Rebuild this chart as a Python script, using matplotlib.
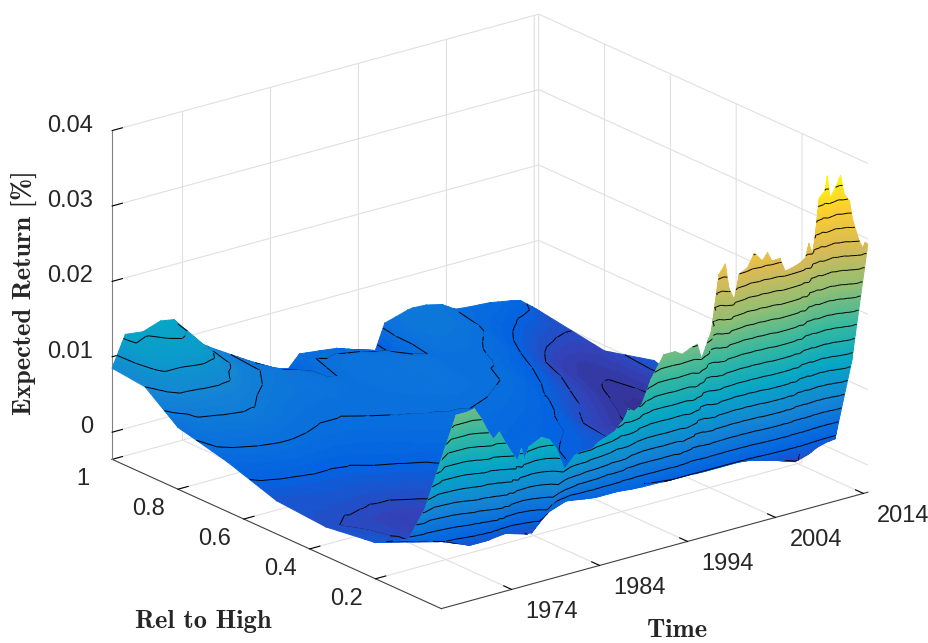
import numpy as np
import matplotlib
matplotlib.use("Agg")
import matplotlib.pyplot as plt
from matplotlib.colors import LinearSegmentedColormap, Normalize
from mpl_toolkits.mplot3d import proj3d
from mpl_toolkits.mplot3d.art3d import Poly3DCollection

# -------------------------------------------------
# data
# -------------------------------------------------

# steep front part of the surface (rel to high 0 .. 0.1), read finely
cliff_years = [1966.0, 1967.7, 1968.85, 1969.76, 1970.56, 1971.36, 1971.93,
               1972.61, 1973.07, 1973.98, 1974.78, 1975.12, 1975.46, 1976.0,
               1977.4, 1978.3, 1979.1, 1980.0, 1981.2, 1982.0, 1983.1, 1983.9,
               1985.7, 1986.8, 1987.3, 1987.9, 1988.8, 1989.9, 1991.3, 1992.6,
               1993.4, 1994.3, 1995.1, 1995.6, 1996.4, 1997.1, 1997.6, 1998.3,
               1998.7, 1999.3, 1999.9, 2000.8, 2001.6, 2002.5, 2003.1, 2003.6,
               2004.5, 2005.1, 2005.9, 2006.7, 2007.4, 2007.8, 2008.2, 2008.5,
               2009.0, 2009.6, 2009.9, 2010.2, 2010.8, 2011.4, 2011.8, 2012.4,
               2012.8, 2013.5, 2013.9, 2014.2, 2014.5]
cliff_rel = [0.0, 0.05, 0.1]

front_r00 = [0.0162, 0.0215, 0.0215, 0.0217, 0.0201, 0.0181, 0.0170, 0.0177,
             0.0166, 0.0146, 0.0131, 0.0147, 0.0131, 0.0147, 0.0155, 0.0149,
             0.0134, 0.0104, 0.0119, 0.0121, 0.0121, 0.0128, 0.0136, 0.0149,
             0.0161, 0.0156, 0.0162, 0.0193, 0.0220, 0.0220, 0.0214, 0.0219,
             0.0222, 0.0201, 0.0225, 0.0245, 0.0307, 0.0318, 0.0285, 0.0268,
             0.0300, 0.0305, 0.0322, 0.0309, 0.0318, 0.0305, 0.0306, 0.0287,
             0.0289, 0.0292, 0.0297, 0.0315, 0.0300, 0.0320, 0.0372, 0.0379,
             0.0398, 0.0368, 0.0379, 0.0394, 0.0368, 0.0357, 0.0329, 0.0301,
             0.0290, 0.0296, 0.0293]
front_r05 = [0.0086, 0.0104, 0.0102, 0.0100, 0.0092, 0.0082, 0.0076, 0.0076,
             0.0070, 0.0062, 0.0056, 0.0062, 0.0057, 0.0064, 0.0067, 0.0063,
             0.0055, 0.0042, 0.0056, 0.0062, 0.0065, 0.0069, 0.0071, 0.0075,
             0.0079, 0.0077, 0.0079, 0.0092, 0.0101, 0.0101, 0.0098, 0.0100,
             0.0101, 0.0092, 0.0102, 0.0110, 0.0135, 0.0139, 0.0125, 0.0119,
             0.0131, 0.0133, 0.0140, 0.0135, 0.0139, 0.0133, 0.0133, 0.0125,
             0.0124, 0.0123, 0.0124, 0.0131, 0.0124, 0.0131, 0.0151, 0.0152,
             0.0159, 0.0147, 0.0153, 0.0160, 0.0151, 0.0149, 0.0139, 0.0129,
             0.0124, 0.0127, 0.0126]
front_r10 = [0.0036, 0.0030, 0.0026, 0.0022, 0.0019, 0.0016, 0.0013, 0.0009,
             0.0006, 0.0006, 0.0006, 0.0006, 0.0007, 0.0008, 0.0009, 0.0005,
             0.0002, 0.0000, 0.0014, 0.0022, 0.0027, 0.0030, 0.0027, 0.0025,
             0.0024, 0.0024, 0.0024, 0.0024, 0.0022, 0.0021, 0.0021, 0.0021,
             0.0020, 0.0020, 0.0020, 0.0020, 0.0020, 0.0020, 0.0019, 0.0019,
             0.0019, 0.0019, 0.0019, 0.0019, 0.0019, 0.0019, 0.0018, 0.0017,
             0.0014, 0.0011, 0.0009, 0.0008, 0.0006, 0.0005, 0.0003, 0.0001,
             0.0000, 0.0000, 0.0002, 0.0004, 0.0006, 0.0010, 0.0012, 0.0014,
             0.0014, 0.0015, 0.0015]

# smooth rear part of the surface (rel to high 0.1 .. 1)
years = [1966, 1967.5, 1969.5, 1971.5, 1973, 1975, 1977, 1979.5, 1982, 1984,
         1986, 1987.3, 1989.5, 1991.5, 1993.5, 1995.9, 1997, 1998.2, 1999.6,
         2000.2, 2001.7, 2003.5, 2005, 2006.5, 2007.8, 2009, 2009.9, 2010.3,
         2011.4, 2012.4, 2013.7, 2014.5]
rel = [0.1, 0.2, 0.35, 0.5, 0.65, 0.8, 0.9, 1.0]

ret_r10 = [0.0036, 0.0030, 0.0022, 0.0016, 0.0006, 0.0006, 0.0009, 0.0000,
           0.0022, 0.0030, 0.0026, 0.0024, 0.0024, 0.0022, 0.0021, 0.0020,
           0.0020, 0.0020, 0.0019, 0.0019, 0.0019, 0.0019, 0.0017, 0.0012,
           0.0008, 0.0003, 0.0000, 0.0000, 0.0004, 0.0010, 0.0014, 0.0015]
ret_r20 = [0.0012, 0.0008, 0.0002, -0.0004, -0.0008, -0.0010, -0.0008, -0.0006,
           0.0004, 0.0012, 0.0016, 0.0017, 0.0018, 0.0016, 0.0014, 0.0012,
           0.0010, 0.0008, 0.0006, 0.0004, 0.0000, -0.0003, -0.0006, -0.0008,
           -0.0010, -0.0012, -0.0013, -0.0013, -0.0012, -0.0010, -0.0005, 0.0000]
ret_r35 = [0.0003, 0.0000, -0.0004, -0.0006, -0.0008, -0.0008, -0.0004, 0.0002,
           0.0010, 0.0018, 0.0022, 0.0024, 0.0024, 0.0022, 0.0018, 0.0014,
           0.0010, 0.0006, 0.0002, -0.0002, -0.0008, -0.0014, -0.0018, -0.0021,
           -0.0023, -0.0025, -0.0026, -0.0026, -0.0025, -0.0022, -0.0016, -0.0010]
ret_r50 = [0.0008, 0.0010, 0.0012, 0.0014, 0.0014, 0.0016, 0.0020, 0.0024,
           0.0028, 0.0032, 0.0034, 0.0034, 0.0034, 0.0032, 0.0030, 0.0026,
           0.0022, 0.0018, 0.0010, 0.0004, -0.0005, -0.0012, -0.0018, -0.0023,
           -0.0027, -0.0030, -0.0035, -0.0031, -0.0028, -0.0024, -0.0017, -0.0010]
ret_r65 = [0.0030, 0.0036, 0.0040, 0.0042, 0.0042, 0.0040, 0.0038, 0.0038,
           0.0040, 0.0042, 0.0043, 0.0044, 0.0046, 0.0048, 0.0046, 0.0042,
           0.0040, 0.0036, 0.0032, 0.0028, 0.0020, 0.0010, 0.0000, -0.0008,
           -0.0014, -0.0019, -0.0022, -0.0023, -0.0024, -0.0020, -0.0010, 0.0010]
ret_r80 = [0.0046, 0.0065, 0.0068, 0.0070, 0.0068, 0.0060, 0.0054, 0.0050,
           0.0048, 0.0046, 0.0044, 0.0048, 0.0050, 0.0050, 0.0048, 0.0044,
           0.0045, 0.0046, 0.0045, 0.0042, 0.0036, 0.0030, 0.0020, 0.0010,
           0.0000, -0.0008, -0.0012, -0.0013, -0.0015, -0.0015, -0.0010, -0.0007]
ret_r90 = [0.0080, 0.0110, 0.0110, 0.0115, 0.0110, 0.0085, 0.0070, 0.0058,
           0.0050, 0.0044, 0.0036, 0.0044, 0.0046, 0.0044, 0.0040, 0.0034,
           0.0048, 0.0052, 0.0052, 0.0052, 0.0050, 0.0044, 0.0032, 0.0026,
           0.0020, 0.0015, 0.0010, 0.0008, 0.0005, 0.0002, 0.0000, 0.0000]
ret_r100 = [0.0085, 0.0125, 0.0122, 0.0130, 0.0127, 0.0095, 0.0078, 0.0060,
            0.0042, 0.0028, 0.0020, 0.0036, 0.0033, 0.0030, 0.0022, 0.0012,
            0.0046, 0.0050, 0.0055, 0.0056, 0.0055, 0.0050, 0.0039, 0.0037,
            0.0036, 0.0035, 0.0033, 0.0032, 0.0030, 0.0027, 0.0015, 0.0007]

x_ticks = [1974, 1984, 1994, 2004, 2014]
y_ticks = [0.2, 0.4, 0.6, 0.8, 1.0]
y_tick_labels = ["0.2", "0.4", "0.6", "0.8", "1"]
z_ticks = [0, 0.01, 0.02, 0.03, 0.04]
z_tick_labels = ["0", "0.01", "0.02", "0.03", "0.04"]

# -------------------------------------------------
# look
# -------------------------------------------------

parula = LinearSegmentedColormap.from_list("parula", [
    (0 / 63, (0.2081, 0.1663, 0.5292)), (4 / 63, (0.1959, 0.2645, 0.7279)),
    (8 / 63, (0.0117, 0.3875, 0.8820)), (16 / 63, (0.0793, 0.5200, 0.8312)),
    (24 / 63, (0.0228, 0.6535, 0.7768)), (32 / 63, (0.2178, 0.7250, 0.6193)),
    (40 / 63, (0.5709, 0.7485, 0.4494)), (48 / 63, (0.8507, 0.7299, 0.3360)),
    (56 / 63, (0.9880, 0.8066, 0.1794)), (63 / 63, (0.9763, 0.9831, 0.0538))])

elev, azim = 20.6, -127.8
box = np.array([1.537, 1.529, 1.0])

Z_cliff = np.array([front_r00, front_r05, front_r10])
Z_body = np.array([ret_r10, ret_r20, ret_r35, ret_r50, ret_r65, ret_r80,
                   ret_r90, ret_r100])

x_lim = (years[0], years[-1])
y_lim = (0.0, 1.0)
z_lim = (-0.0036, 0.04)
norm = Normalize(min(Z_cliff.min(), Z_body.min()), max(Z_cliff.max(), Z_body.max()))

band_edges = np.round(np.arange(-0.004, 0.0405, 0.0005), 6)
line_levels = np.round(np.arange(-0.002, 0.0401, 0.002), 6) + 1e-9


def clip(poly, level, keep_above):
    out = []
    n = len(poly)
    for i in range(n):
        a, b = poly[i], poly[(i + 1) % n]
        ina = a[2] >= level if keep_above else a[2] <= level
        inb = b[2] >= level if keep_above else b[2] <= level
        if ina:
            out.append(a)
        if ina != inb:
            f = (level - a[2]) / (b[2] - a[2])
            out.append(a + f * (b - a))
    return out


polys, face, edge = [], [], []
segs = []


def add_grid(xs, ys, Z):
    # split the surface into colour bands so the shading runs smoothly,
    # and collect the contour pieces (contour3 style)
    T, R = np.meshgrid(xs, ys)
    nr, nt = Z.shape
    for i in range(nr - 1):
        for j in range(nt - 1):
            p00 = np.array([T[i, j], R[i, j], Z[i, j]])
            p01 = np.array([T[i, j + 1], R[i, j + 1], Z[i, j + 1]])
            p10 = np.array([T[i + 1, j], R[i + 1, j], Z[i + 1, j]])
            p11 = np.array([T[i + 1, j + 1], R[i + 1, j + 1], Z[i + 1, j + 1]])
            for tri in ([p00, p10, p11], [p00, p11, p01]):
                zs = [p[2] for p in tri]
                zlo, zhi = min(zs), max(zs)
                for k in range(len(band_edges) - 1):
                    lo, hi = band_edges[k], band_edges[k + 1]
                    if hi < zlo or lo > zhi:
                        continue
                    piece = clip(clip(tri, lo, True), hi, False)
                    if len(piece) >= 3:
                        c = parula(norm(np.clip((lo + hi) / 2, zlo, zhi)))
                        polys.append(np.array(piece))
                        face.append(c)
                        edge.append(c)
                for lev in line_levels:
                    if not (zlo < lev < zhi):
                        continue
                    pts = []
                    for a, b in ((tri[0], tri[1]), (tri[1], tri[2]), (tri[2], tri[0])):
                        if (a[2] - lev) * (b[2] - lev) < 0:
                            f = (lev - a[2]) / (b[2] - a[2])
                            pts.append(a + f * (b - a))
                    if len(pts) == 2:
                        segs.append(np.array(pts))


add_grid(cliff_years, cliff_rel, Z_cliff)
add_grid(years, rel, Z_body)

# push contour pieces a little toward the eye (no shift on screen in ortho view)
e, a = np.radians(elev), np.radians(azim)
eye = np.array([np.cos(e) * np.cos(a), np.cos(e) * np.sin(a), np.sin(e)])
spans = np.array([x_lim[1] - x_lim[0], y_lim[1] - y_lim[0], z_lim[1] - z_lim[0]])
nudge = 0.03 * eye * spans / box
for s in segs:
    polys.append(s + nudge)
    face.append((0, 0, 0, 0))
    edge.append((0, 0, 0, 1))

# -------------------------------------------------
# figure
# -------------------------------------------------

plt.rcParams["font.family"] = ["Liberation Sans", "DejaVu Sans"]

fig = plt.figure(figsize=(9.29, 6.43), dpi=100)
ax = fig.add_axes([-0.1174, -0.1344, 1.266, 1.266], projection="3d")
ax.set_proj_type("ortho")
ax.view_init(elev=elev, azim=azim)
ax.set_box_aspect(tuple(box))

surf = Poly3DCollection(polys, facecolors=face, edgecolors=edge, linewidths=0.7)
ax.add_collection3d(surf)

ax.set_xlim(*x_lim)
ax.set_ylim(*y_lim)
ax.set_zlim(*z_lim)

ax.set_xticks(x_ticks)
ax.set_yticks(y_ticks)
ax.set_zticks(z_ticks)

for axis in (ax.xaxis, ax.yaxis, ax.zaxis):
    axis.set_tick_params(labelbottom=False)
    axis.label.set_visible(False)
    axis.offsetText.set_visible(False)
    axis.set_pane_color((1, 1, 1, 0))
    axis.pane.set_edgecolor((0.86, 0.86, 0.86))
    axis._axinfo["grid"].update(color=(0.88, 0.88, 0.88), linewidth=0.8)
    axis._axinfo["tick"]["inward_factor"] = 0.0
    axis._axinfo["tick"]["outward_factor"] = 0.3
    axis._axinfo["tick"]["color"] = "#404040"
    axis.line.set_color("#404040")
    axis.line.set_linewidth(0.8)
ax.zaxis.line.set_color("#808080")

# tick labels placed the way MATLAB puts them: project the 3D anchor
# through the axes' own projection and write plain 2D text there
M = ax.get_proj()


def tick_text(x, y, z, s, ha):
    px, py, _ = proj3d.proj_transform(x, y, z, M)
    ax.text2D(px, py, s, transform=ax.transData, ha=ha, va="center",
              fontsize=17, color="#262626")


for t in x_ticks:
    tick_text(t, y_lim[0] - 0.122, z_lim[0] - 0.00064, str(t), "center")
for r, lab in zip(y_ticks, y_tick_labels):
    tick_text(x_lim[0] - 3.3, r, z_lim[0] - 0.00162, lab, "center")
for z, lab in zip(z_ticks, z_tick_labels):
    tick_text(x_lim[0] - 2.17, y_lim[1], z + 0.00134, lab, "right")

fig.text(0.219, 0.033, "Rel to High", fontfamily="cmb10", fontsize=19,
         ha="center", va="center", color="#262626")
fig.text(0.729, 0.019, "Time", fontfamily="cmb10", fontsize=19,
         ha="center", va="center", color="#262626")
fig.text(0.027, 0.545, "Expected Return [%]", fontfamily="cmb10", fontsize=19,
         ha="center", va="center", rotation=90, color="#262626")

fig.savefig("out.png", dpi=100)
